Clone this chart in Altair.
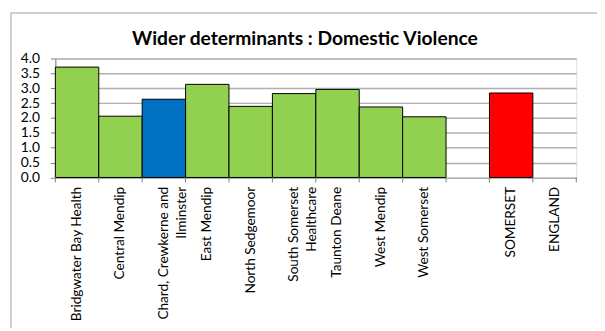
import altair as alt
import pandas as pd

areas = ["Bridgwater Bay Health", "Central Mendip", "Chard, Crewkerne and\nIlminster",
         "East Mendip", "North Sedgemoor", "South Somerset\nHealthcare", "Taunton Deane",
         "West Mendip", "West Somerset", " ", "SOMERSET", "ENGLAND"]
values = [3.71, 2.06, 2.63, 3.13, 2.39, 2.82, 2.96, 2.37, 2.04, None, 2.84, None]
groups = ["district", "district", "selected", "district", "district", "district", "district",
          "district", "district", "blank", "county", "national"]
title_text = ["Wider determinants : Domestic Violence"]

df = pd.DataFrame({"area": areas, "value": values, "group": groups})

W, H = 528, 120.6
FONT = "Lato"

xscale = alt.Scale(domain=areas, paddingInner=0, paddingOuter=0)
yscale = alt.Scale(domain=[0, 4])

bars = alt.Chart(df).mark_bar(stroke="black", strokeWidth=1).encode(
    x=alt.X("area:N", sort=areas, scale=xscale,
            axis=alt.Axis(title=None, labelAngle=-90, labelAlign="right", labelBaseline="middle",
                          labelExpr="split(datum.label, '\\n')", labelLineHeight=18,
                          labelFont=FONT, labelFontSize=13.8, labelColor="#000000",
                          labelPadding=9, ticks=False, domain=False)),
    y=alt.Y("value:Q", scale=yscale,
            axis=alt.Axis(title=None, values=[0, 0.5, 1, 1.5, 2, 2.5, 3, 3.5, 4], format=".1f",
                          labelFont=FONT, labelFontSize=14, labelColor="#000000",
                          labelPadding=11, tickSize=5, tickColor="#808080",
                          domainColor="#808080", gridColor="#b0b0b0", gridWidth=1.5,
                          labelBaseline="middle")),
    color=alt.Color("group:N", legend=None,
                    scale=alt.Scale(domain=["district", "selected", "county", "blank", "national"],
                                    range=["#92D050", "#0070C0", "#FF0000", "#FFFFFF", "#FFFFFF"])),
)

ticks = alt.Chart(df).mark_rule(color="#808080", strokeWidth=1).encode(
    x=alt.X("area:N", sort=areas, scale=xscale, bandPosition=0),
    y=alt.value(H),
    y2=alt.value(H + 5),
)

end_tick = alt.Chart(df.head(1)).mark_rule(color="#808080", strokeWidth=1).encode(
    x=alt.value(W), y=alt.value(H), y2=alt.value(H + 5)
)

border = alt.Chart(df.head(1)).mark_rect(fill=None, stroke="#c0c0c0", strokeWidth=1.5).encode(
    x=alt.value(-45), x2=alt.value(800), y=alt.value(-46), y2=alt.value(600)
)

title = alt.Chart(pd.DataFrame({"t": title_text})).mark_text(
    font=FONT, fontSize=19.5, fontWeight="bold", color="#000000", align="center", baseline="alphabetic"
).encode(text="t:N", x=alt.value(253), y=alt.value(-14))

chart = alt.layer(border, bars, ticks, end_tick, title).properties(
    width=W, height=H,
    autosize=alt.AutoSizeParams(type="none"),
    padding={"left": 48, "top": 49, "right": 21, "bottom": 150},
).configure_view(stroke="#404040", strokeWidth=1.2).configure(background="white")

chart.save("out.html", embed_options={"renderer": "svg", "actions": False})
